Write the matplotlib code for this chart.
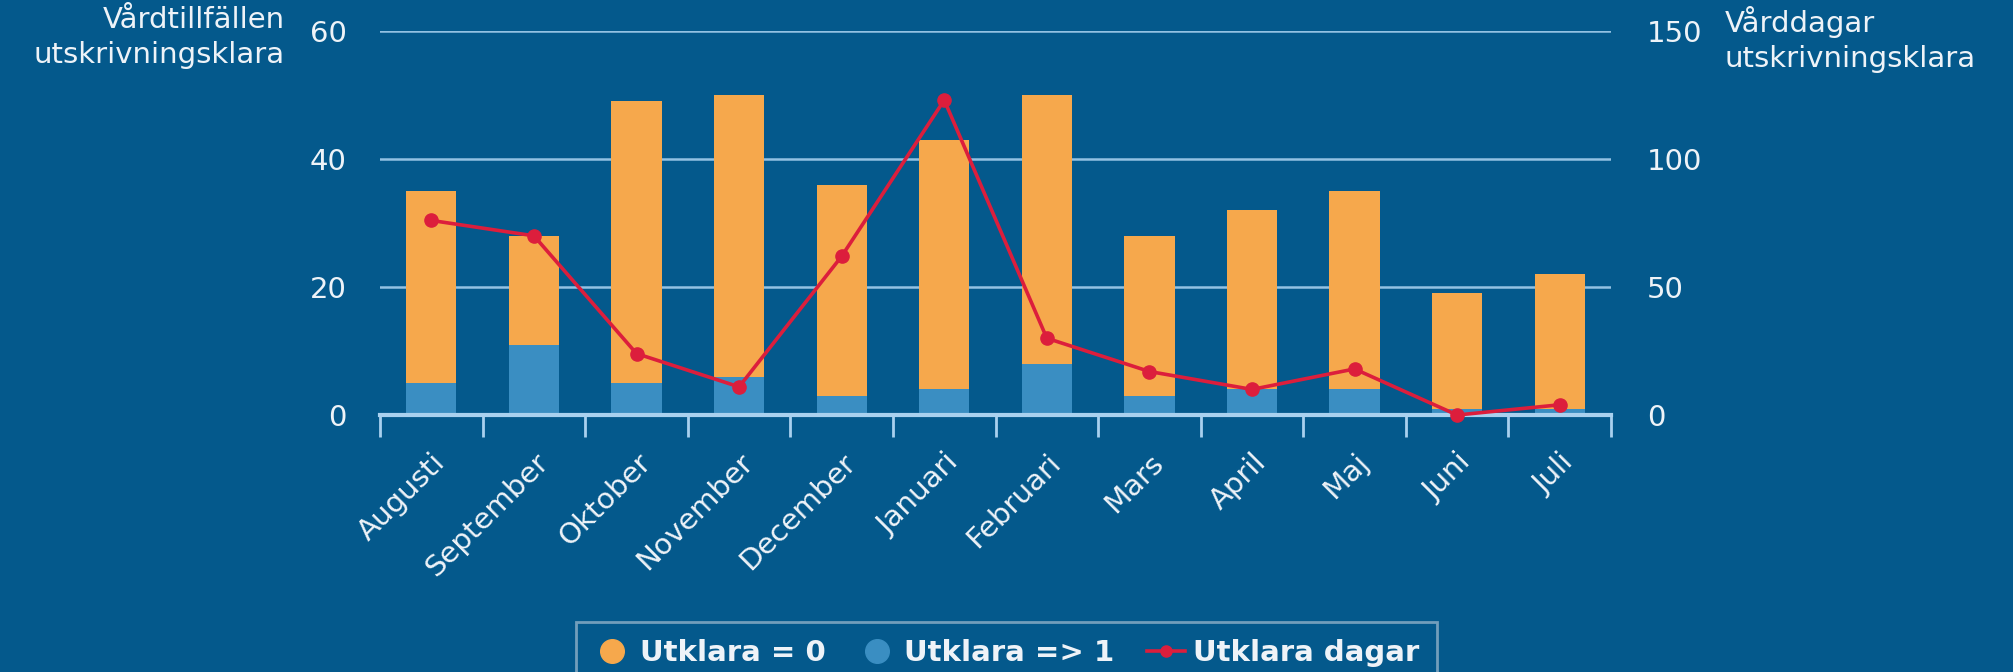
import matplotlib.pyplot as plt
from matplotlib.lines import Line2D
import numpy as np

# data
manader = ["Augusti", "September", "Oktober", "November", "December", "Januari",
           "Februari", "Mars", "April", "Maj", "Juni", "Juli"]
utklara_1 = [5, 11, 5, 6, 3, 4, 8, 3, 4, 4, 1, 1]          # Utklara => 1
utklara_0 = [30, 17, 44, 44, 33, 39, 42, 25, 28, 31, 18, 21]  # Utklara = 0
utklara_dagar = [76, 70, 24, 11, 62, 123, 30, 17, 10, 18, 0, 4]

bg = "#04598c"
orange = "#f6a84c"
blue = "#3a8ec2"
red = "#dc1e3c"
grid_c = "#93c2e3"
txt = "#eef3f8"

fig = plt.figure(figsize=(20.13, 6.72), dpi=100, facecolor=bg)
ax = fig.add_axes([0.1888, 0.3824, 0.6115, 0.5715])
ax.set_facecolor(bg)

x = np.arange(len(manader))
ax.bar(x, utklara_1, width=0.49, color=blue, zorder=2)
ax.bar(x, utklara_0, width=0.49, bottom=utklara_1, color=orange, zorder=2)

ax.set_xlim(-0.5, 11.5)
ax.set_ylim(0, 60)
ax.set_yticks([0, 20, 40, 60])
ax.yaxis.grid(True, color=grid_c, lw=1.8)
ax.set_axisbelow(True)
for s in ["top", "left", "right"]:
    ax.spines[s].set_visible(False)
ax.spines["bottom"].set_color("#a9d1ef")
ax.spines["bottom"].set_linewidth(3)
ax.spines["bottom"].set_zorder(3)

ax.set_xticks(x)
ax.set_xticklabels(manader, rotation=45, ha="right", va="top",
                   rotation_mode="anchor", fontsize=21, color=txt)
ax.set_xticks(np.arange(-0.5, 12, 1), minor=True)
ax.tick_params(axis="x", which="major", length=0, pad=24)
ax.tick_params(axis="x", which="minor", length=16, width=2, color="#a9d1ef", direction="out")
ax.tick_params(axis="y", length=0, pad=24, labelsize=21, labelcolor=txt)

ax2 = ax.twinx()
ax2.set_ylim(0, 150)
ax2.set_yticks([0, 50, 100, 150])
for s in ax2.spines.values():
    s.set_visible(False)
ax2.tick_params(axis="y", length=0, pad=26, labelsize=21, labelcolor=txt)
ax2.plot(x, utklara_dagar, color=red, lw=2.6, marker="o", ms=9.5, clip_on=False, zorder=4)

fig.text(0.1416, 1 - 6 / 672, "Vårdtillfällen\nutskrivningsklara", ha="right", va="top",
         fontsize=21, color=txt, multialignment="right", linespacing=1.3)
fig.text(0.8566, 1 - 6 / 672, "Vårddagar\nutskrivningsklara", ha="left", va="top",
         fontsize=21, color=txt, multialignment="left", linespacing=1.3)

handles = [
    Line2D([], [], ls="none", marker="o", ms=17, color=orange),
    Line2D([], [], ls="none", marker="o", ms=17, color=blue),
    Line2D([], [], color=red, lw=2.6, marker="o", ms=8),
]
leg = fig.legend(handles, ["Utklara = 0", "Utklara => 1", "Utklara dagar"],
                 loc="upper center", bbox_to_anchor=(0.5, 1 - 607 / 672), ncol=3,
                 frameon=True, fancybox=False, facecolor=bg, edgecolor="#8fb0c8",
                 prop={"weight": "bold", "size": 21}, labelcolor=txt,
                 handlelength=1.3, handletextpad=0.3, columnspacing=1.1, borderpad=0.6)
leg.get_frame().set_linewidth(2)

fig.savefig("out.png", dpi=100, facecolor=bg)
